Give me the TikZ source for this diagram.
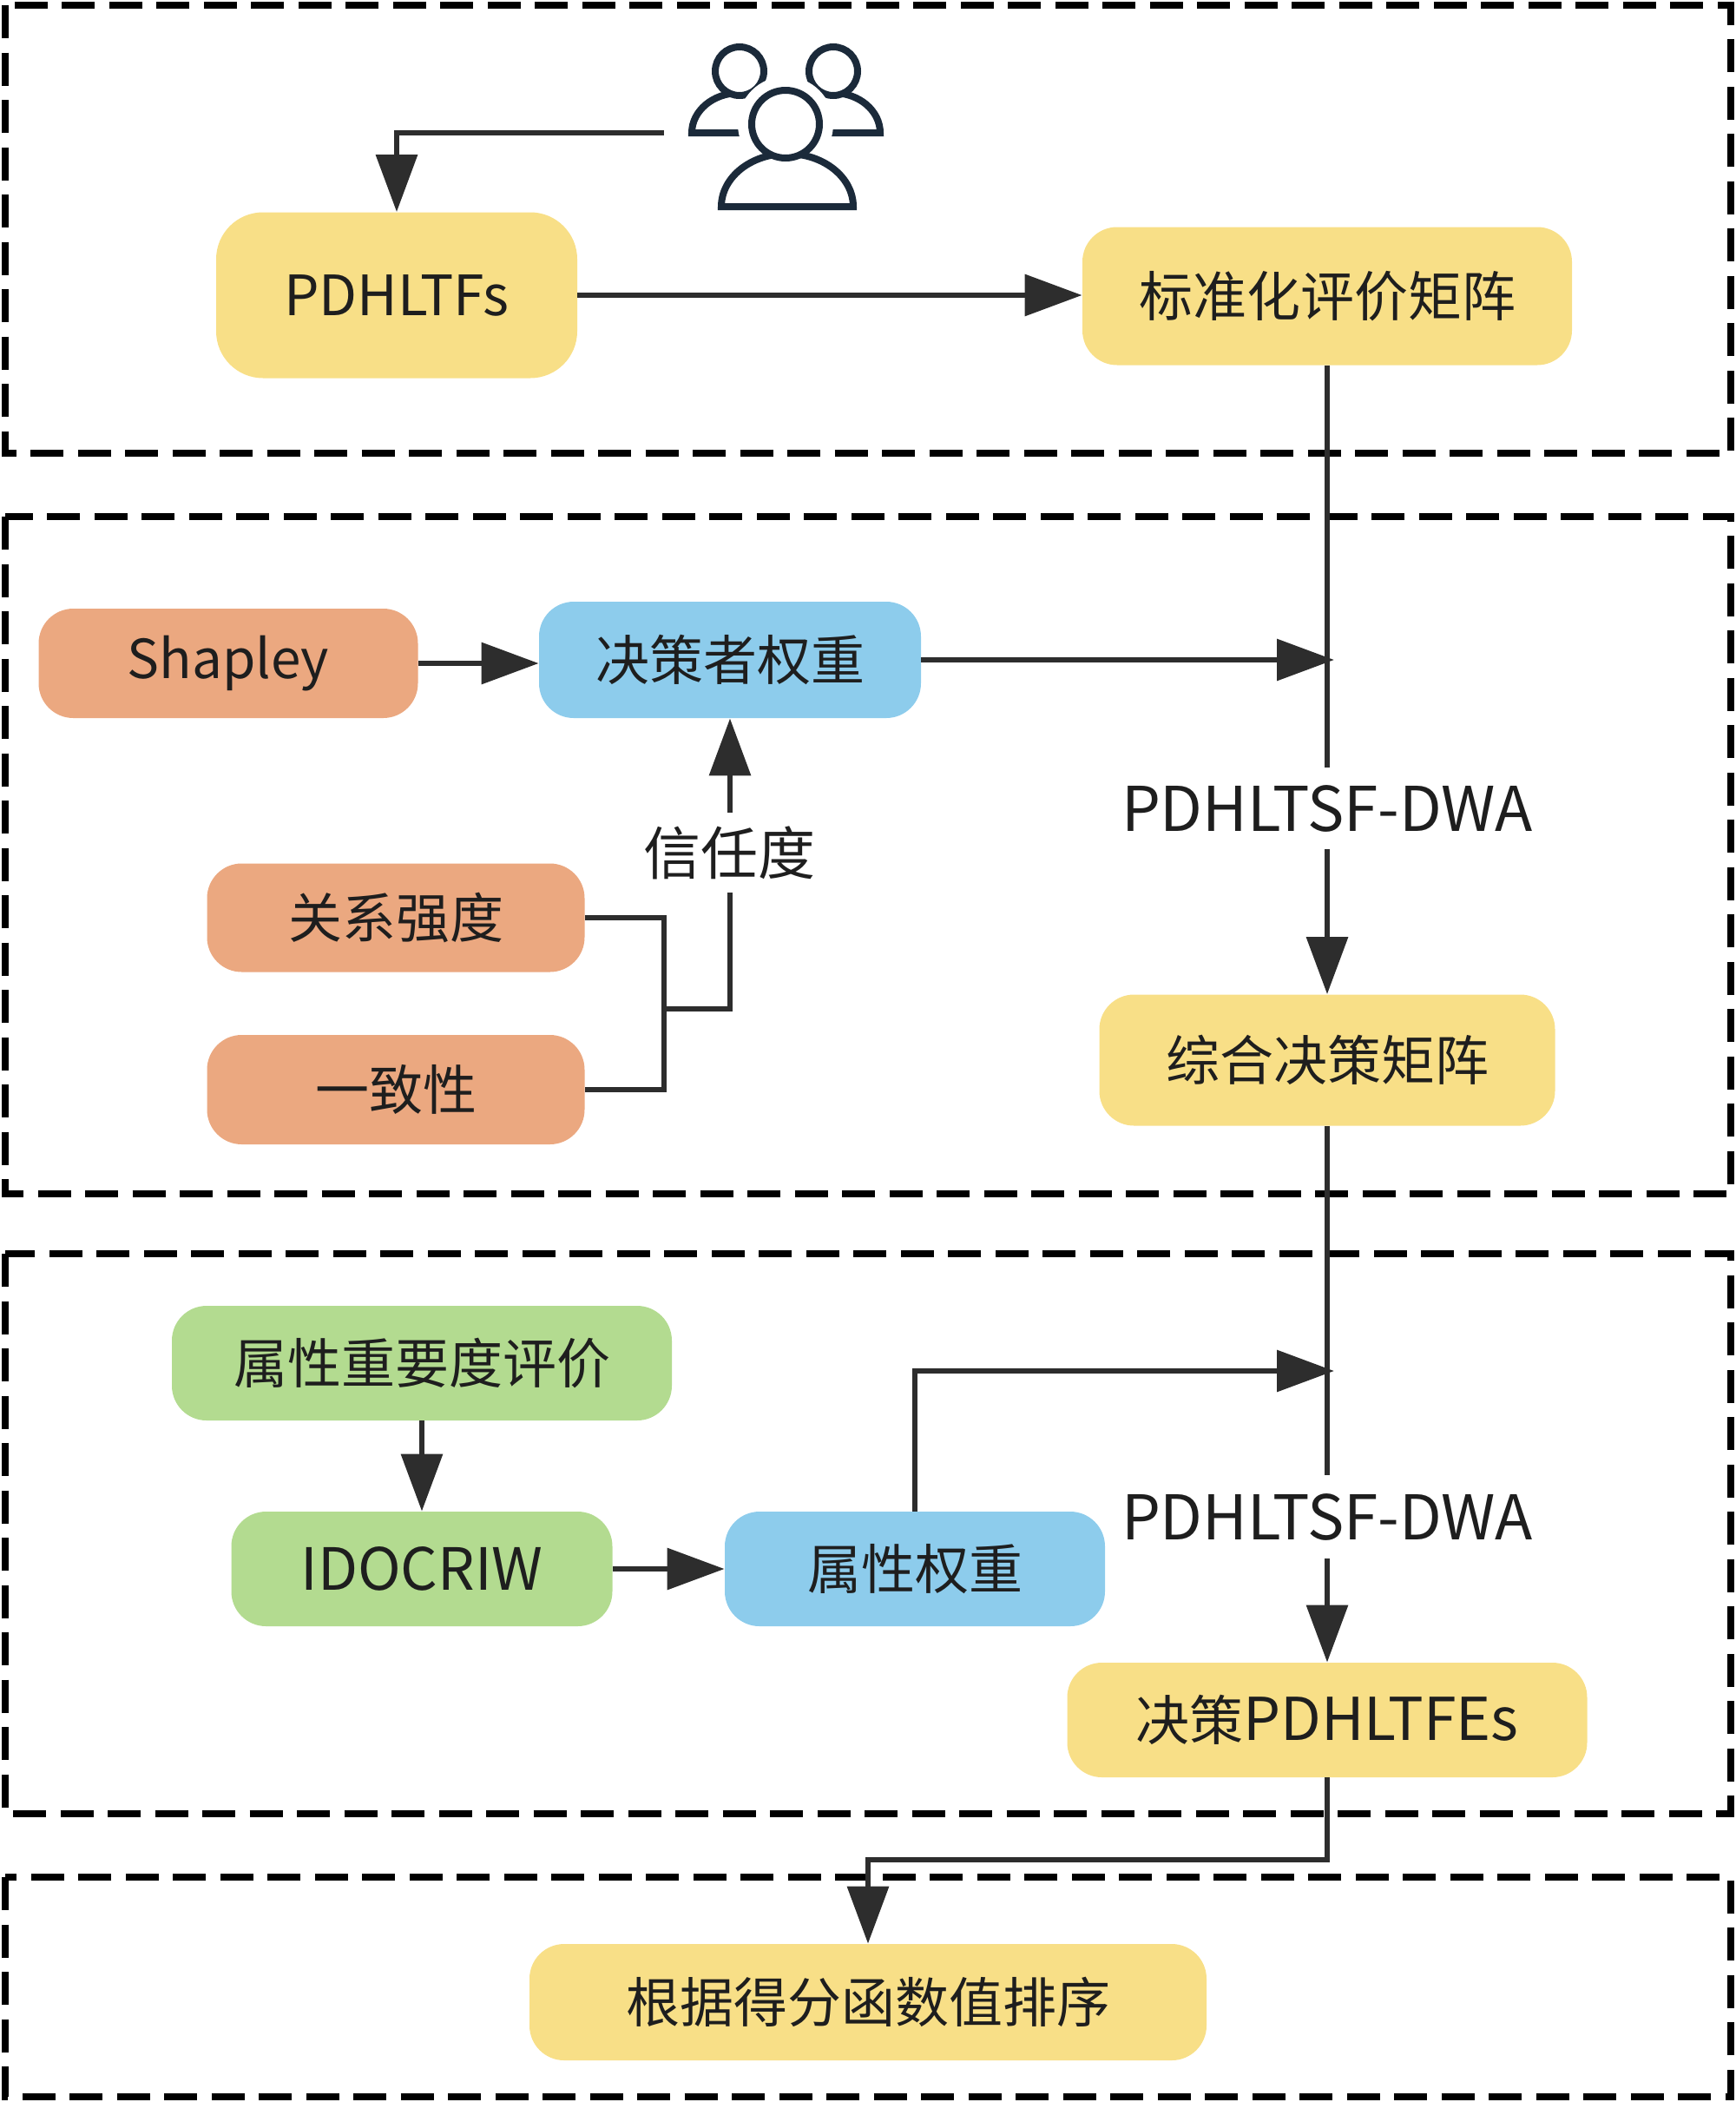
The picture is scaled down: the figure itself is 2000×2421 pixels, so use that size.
\documentclass[tikz,border=0pt]{standalone}
\usepackage{fontspec}
\setmainfont{Noto Sans CJK SC}
\usetikzlibrary{arrows.meta}
\definecolor{cyel}{RGB}{248,223,135}
\definecolor{corg}{RGB}{235,168,128}
\definecolor{cblu}{RGB}{141,204,236}
\definecolor{cgrn}{RGB}{179,219,144}
\definecolor{ctxt}{RGB}{30,30,30}
\definecolor{clin}{RGB}{45,45,45}
\definecolor{cicon}{RGB}{27,42,58}
\newcommand\nfont{\fontsize{31}{36}\selectfont}
\newcommand\lfont{\fontsize{35.5}{40}\selectfont}
\newcommand\cfont{\fontsize{33}{38}\selectfont}
\newcommand\latn[2]{{\fontsize{#1}{38}\selectfont #2}}
\begin{document}
\begin{tikzpicture}[x=0.5pt,y=-0.5pt,
  framebox/.style={draw=black, line width=4pt, dash pattern=on 19pt off 8.25pt},
  blk/.style={rounded corners=20pt, inner sep=0pt, text=ctxt, font=\nfont},
  yel/.style={blk, fill=cyel},
  org/.style={blk, fill=corg},
  blu/.style={blk, fill=cblu},
  grn/.style={blk, fill=cgrn},
  conn/.style={draw=clin, line width=3.2pt, -{Triangle[length=33pt,width=23.5pt]}},
  ln/.style={draw=clin, line width=3.2pt},
  lab/.style={fill=white, inner xsep=2pt, inner ysep=0pt, text=ctxt},
  iconline/.style={draw=cicon, line width=4pt, fill=white},
  halo/.style={draw=white, line width=16pt, fill=white}
]
\useasboundingbox (0,0) rectangle (2000,2421);

% dashed frames
\draw[framebox] (6,6) rectangle (1994,522);
\draw[framebox] (6,595) rectangle (1994,1375);
\draw[framebox] (6,1444) rectangle (1994,2089);
\draw[framebox] (6,2162) rectangle (1994,2415);

% people icon
\draw[iconline] (797,153) arc[start angle=180, end angle=0, x radius=27.5pt, y radius=23pt] -- cycle;
\draw[iconline] (852,82) circle[radius=14pt];
\draw[iconline] (906,153) arc[start angle=180, end angle=0, x radius=27pt, y radius=23pt] -- cycle;
\draw[iconline] (960,82) circle[radius=14pt];
\draw[halo] (831,238) arc[start angle=180, end angle=0, x radius=38pt, y radius=30.5pt] -- cycle;
\draw[halo] (905,143) circle[radius=19.5pt];
\draw[iconline] (831,238) arc[start angle=180, end angle=0, x radius=38pt, y radius=30.5pt] -- cycle;
\draw[iconline] (905,143) circle[radius=19.5pt];
\coordinate (ic) at (765,153);

% nodes
\node[yel, rounded corners=27pt, minimum width=208pt, minimum height=95.5pt] (pd) at (457,340) {\latn{32}{PDHLTFs}};
\node[yel, minimum width=282pt, minimum height=79.5pt] (std) at (1529,341) {标准化评价矩阵};
\node[org, minimum width=218.5pt, minimum height=63pt] (sh) at (263,764) {Shapley};
\node[blu, minimum width=220pt, minimum height=67pt] (js) at (841,760) {决策者权重};
\node[org, minimum width=217.5pt, minimum height=62.5pt] (gx) at (456,1057) {关系强度};
\node[org, minimum width=217.5pt, minimum height=63pt] (yz) at (456,1255) {一致性};
\node[yel, minimum width=262.5pt, minimum height=75.5pt] (zh) at (1529,1221) {综合决策矩阵};
\node[grn, minimum width=288pt, minimum height=66pt] (sx) at (486,1570) {属性重要度评价};
\node[grn, minimum width=219.5pt, minimum height=66pt] (id) at (486,1807) {\latn{33.5}{IDOCRIW}};
\node[blu, minimum width=219pt, minimum height=66pt] (qz) at (1054,1807) {属性权重};
\node[yel, minimum width=299.5pt, minimum height=66pt] (jc) at (1529,1981) {决策\latn{34}{PDHLTFEs}};
\node[yel, minimum width=390pt, minimum height=67pt] (gj) at (1000,2306) {根据得分函数值排序};

% junction coordinates
\coordinate (j1) at (1537,761);
\coordinate (j2) at (1537,1579);
\coordinate (m) at (765,1162);
\coordinate (b) at (1000,2142);

% connectors
\draw[conn] (ic) -| (pd.north);
\draw[conn] (pd.east) -- (pd.east -| std.west);
\draw[conn] (std.south) -- (zh.north);
\node[lab, font=\lfont, minimum height=47pt] (l1) at (1529,931) {PDHLTSF-DWA};
\draw[conn] (sh.east) -- (sh.east -| js.west);
\draw[conn] (js.east) -- (js.east -| j1);
\draw[ln] (gx.east) -| (m) |- (yz.east);
\draw[conn] (m) -| (js.south);
\node[lab, font=\cfont, minimum height=46pt] (tr) at (840,982) {信任度};
\draw[conn] (zh.south) -- (jc.north);
\node[lab, font=\lfont, minimum height=48pt] (l2) at (1529,1747) {PDHLTSF-DWA};
\draw[conn] (sx.south) -- (id.north);
\draw[conn] (id.east) -- (qz.west);
\draw[conn] (qz.north) |- (j2);
\draw[conn] (jc.south) |- (b) -- (gj.north);
\end{tikzpicture}
\end{document}
